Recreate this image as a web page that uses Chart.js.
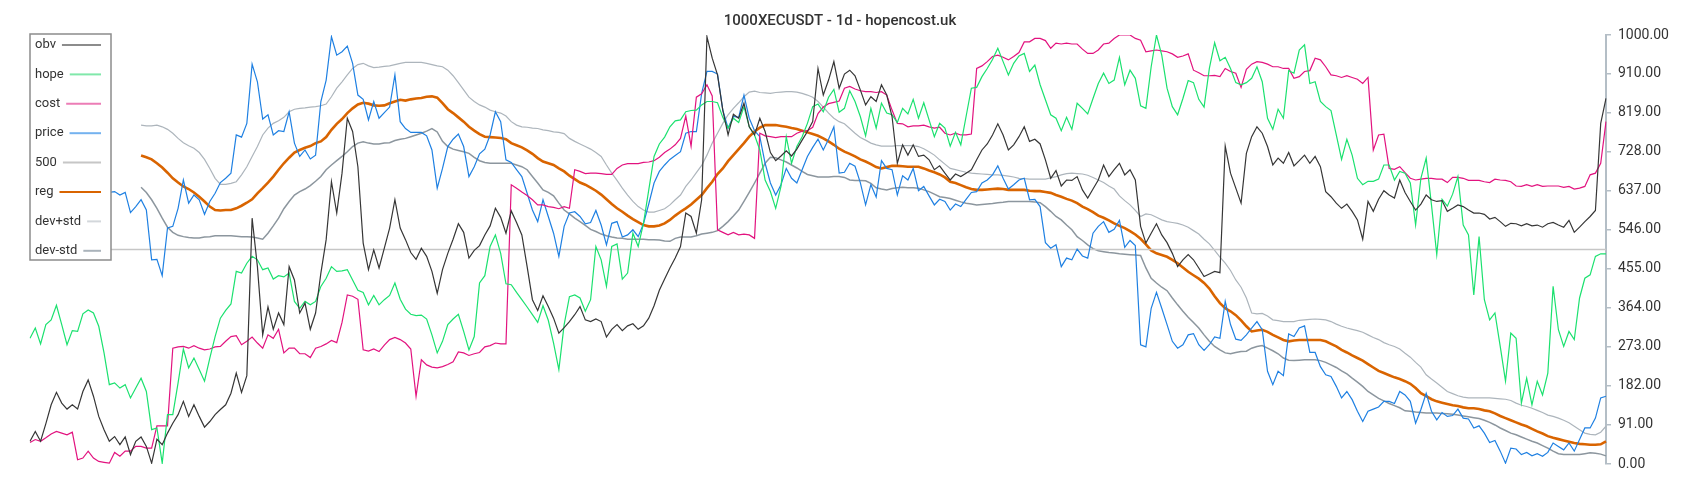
<!DOCTYPE html>
<html>
<head>
<meta charset="utf-8">
<title>1000XECUSDT - 1d - hopencost.uk</title>
<script src="https://cdn.jsdelivr.net/npm/chart.js@4.4.1/dist/chart.umd.min.js"></script>
<style>
    html, body { margin: 0; padding: 0; background: #fff; }
    #wrap { width: 1700px; height: 500px; position: relative; }
</style>
</head>
<body>
<div id="wrap"><canvas id="container"></canvas></div>
<script>
const titleText = '1000XECUSDT - 1d - hopencost.uk';

const obv = [53,76,53,94,138,167,142,128,138,128,
169,196,158,111,80,53,64,45,63,22,
53,63,41,2,58,45,72,95,115,146,
111,138,111,86,99,115,127,138,165,212,
167,206,573,460,301,366,314,352,325,460,
429,352,375,314,352,445,523,658,585,678,
806,775,693,515,453,499,457,503,550,616,
550,523,493,477,503,484,449,398,453,491,
524,560,540,480,498,509,534,555,596,575,
538,590,563,534,460,383,358,392,367,340,
305,318,332,348,367,336,332,338,332,296,
314,325,311,322,327,314,322,340,369,405,
431,457,480,507,585,577,538,616,996,946,
907,825,767,815,806,841,786,767,806,775,
726,707,718,730,718,734,755,775,798,922,
860,895,938,876,909,918,905,872,837,856,
845,884,860,810,701,744,720,744,717,720,
709,686,695,678,662,676,670,678,686,709,
732,746,767,793,767,732,744,763,786,752,
757,746,709,666,684,648,662,661,670,639,
620,641,662,697,670,686,701,674,686,662,
554,515,538,560,534,516,491,460,476,488,
476,457,437,443,449,446,741,678,643,608,
724,763,786,771,740,697,713,701,726,695,
707,720,701,717,693,635,623,608,596,606,
589,569,524,612,589,617,637,627,620,662,
633,612,592,606,627,616,612,614,589,596,
604,600,592,585,585,582,571,575,565,554,
561,560,555,560,555,557,552,560,563,557,
552,568,540,552,565,577,591,794,852];

const hope = [293,317,280,325,336,370,325,278,311,309,
350,359,352,321,259,185,189,177,185,154,
177,200,169,80,84,2,115,115,189,268,
224,247,220,193,247,297,340,358,373,449,
445,468,484,476,453,457,431,439,436,445,
379,363,379,371,379,414,433,460,449,450,
453,429,405,400,371,393,371,383,393,422,
384,361,349,346,347,338,301,259,286,325,
338,349,309,266,297,422,439,507,534,491,
420,418,400,383,366,348,330,369,335,282,
220,325,390,394,387,356,383,507,476,414,
507,513,431,445,538,507,561,639,717,746,
762,786,800,802,821,824,825,837,845,845,
842,808,783,806,796,833,786,767,732,662,
635,596,647,763,701,740,763,794,833,839,
821,855,873,820,829,870,845,810,765,829,
783,841,818,814,796,829,816,850,806,842,
802,763,794,783,741,773,744,810,876,878,
903,922,943,969,938,907,934,951,957,915,
930,884,849,814,806,777,808,780,841,829,
816,852,887,911,887,895,948,884,918,899,
835,829,926,1000,953,876,833,814,852,894,
889,850,832,922,982,940,948,922,889,884,
889,899,926,891,806,780,827,806,917,911,
965,977,887,891,845,833,824,767,710,757,
720,666,651,659,659,664,697,697,662,682,
678,655,557,666,713,604,488,617,601,629,
670,557,534,394,530,383,336,352,274,193,
305,293,142,200,138,193,161,212,414,313,
274,309,290,387,433,441,484,490,490];

const cost = [50,57,53,61,70,76,72,68,74,10,
14,30,14,6,4,2,27,18,30,30,
41,41,37,37,89,89,89,270,273,274,
270,276,270,266,268,273,274,286,297,299,
278,286,296,282,270,301,293,314,259,270,
270,257,257,248,270,274,280,288,283,330,
394,391,384,266,263,268,262,277,290,295,
290,282,268,158,243,231,226,224,227,232,
238,261,259,253,257,260,273,276,282,280,
280,651,643,634,626,616,604,604,600,598,
595,600,596,686,682,677,678,678,677,675,
675,689,697,700,700,700,703,704,707,715,
726,734,744,759,811,741,855,863,884,858,
546,540,534,540,534,536,534,526,771,765,
763,761,763,763,763,771,776,777,785,817,
832,840,843,846,876,880,874,870,868,868,
866,868,860,825,794,793,786,788,788,790,
786,783,785,771,767,771,767,767,769,922,
928,938,950,953,948,942,950,959,984,984,
992,992,987,969,981,979,981,979,979,967,
957,957,965,979,981,992,1000,1000,1000,992,
988,961,963,965,963,961,956,948,951,956,
918,912,905,905,906,903,922,915,911,878,
920,932,938,936,932,926,926,922,922,899,
903,915,917,946,942,926,907,905,901,905,
901,897,887,901,732,767,769,689,687,693,
679,666,662,664,666,666,664,664,656,668,
668,666,661,661,661,658,656,664,662,661,
658,648,647,651,647,651,647,648,648,648,
645,647,641,643,647,674,678,701,798];

const price = [640,655,648,662,670,655,640,630,645,660,
650,638,625,640,632,633,635,627,633,586,
600,616,592,476,477,439,550,554,596,662,
608,627,616,582,612,631,656,666,678,767,
762,794,932,891,804,814,767,777,775,821,
748,717,732,711,720,845,895,996,953,961,
974,934,860,850,802,845,806,819,832,907,
798,782,773,773,773,765,732,643,689,740,
757,769,740,670,693,723,734,767,821,798,
709,703,686,670,631,592,565,616,577,538,
484,554,585,588,577,560,563,591,557,511,
561,565,529,534,546,530,560,606,655,682,
697,710,719,728,771,775,775,864,915,915,
909,825,783,810,808,860,806,777,763,701,
655,627,651,689,666,655,686,717,738,757,
732,757,786,678,680,701,694,656,604,651,
622,707,689,686,627,672,662,689,637,647,
625,604,617,612,592,606,600,617,633,635,
655,662,674,695,666,641,651,662,666,616,
617,600,516,503,511,460,480,476,501,485,
480,538,554,565,540,547,568,505,521,509,
278,273,363,400,363,325,286,270,278,301,
304,278,265,278,296,293,379,325,291,288,
301,317,332,313,216,185,216,206,303,297,
317,322,260,260,227,208,204,181,154,169,
150,123,99,123,128,133,146,146,141,169,
161,146,95,127,165,123,103,120,111,113,
128,107,105,84,89,72,50,55,30,2,
37,35,22,27,19,24,18,27,49,41,
33,49,30,57,84,84,107,154,158];

const level = 500;

const reg = [null,null,null,null,null,null,null,null,null,null,
null,null,null,null,null,null,null,null,null,null,
null,719,715,710,701,691,679,666,656,647,
641,633,623,612,600,592,591,592,592,596,
602,609,617,631,643,656,670,686,701,714,
726,732,737,741,748,752,762,779,793,804,
818,829,838,842,840,836,835,836,841,845,
849,847,850,852,853,856,857,854,841,827,
818,808,798,786,777,769,763,762,761,760,
757,748,743,738,731,723,713,705,701,697,
689,682,672,664,656,651,644,637,628,617,
606,596,588,579,571,564,557,554,554,556,
561,569,579,588,596,605,616,627,643,658,
676,689,706,720,734,748,763,775,784,790,
790,790,788,786,783,781,777,773,769,765,
759,752,744,735,728,723,717,710,705,699,
692,689,692,695,695,694,693,693,693,689,
684,680,675,668,658,655,650,645,641,639,
639,640,641,642,641,639,639,639,639,637,
636,636,634,632,627,623,618,614,608,600,
594,587,579,574,568,561,555,550,543,535,
525,512,498,491,487,483,476,468,458,448,
440,432,422,409,391,375,363,356,347,335,
321,309,311,313,308,301,295,289,286,288,
289,289,289,289,289,286,280,274,266,260,
253,247,241,233,225,217,212,207,202,198,
193,187,177,165,158,151,146,143,140,137,
135,132,130,130,128,125,123,118,112,107,
102,97,92,88,82,76,71,65,61,58,
55,52,49,47,46,45,45,46,53];

const devUp = [null,null,null,null,null,null,null,null,null,null,
null,null,null,null,null,null,null,null,null,null,
null,790,788,788,790,786,780,771,759,749,
742,736,726,710,689,666,652,652,654,658,
674,693,717,740,767,783,794,800,808,821,
827,829,830,832,833,835,839,856,876,891,
907,922,931,934,928,924,925,927,928,931,
934,936,936,936,936,934,931,928,926,918,
905,889,872,855,845,837,832,825,821,818,
811,798,790,786,785,783,782,779,777,774,
773,770,759,752,746,740,734,726,717,697,
678,661,643,627,612,600,592,587,587,591,
595,604,616,627,647,662,679,696,720,748,
771,794,814,829,842,856,867,869,866,865,
864,866,867,868,868,867,864,860,855,845,
832,818,806,798,793,782,771,761,755,748,
744,741,741,741,742,742,742,742,740,735,
728,720,709,699,689,686,683,680,678,677,
676,675,674,674,673,671,669,666,665,664,
664,664,664,667,670,674,677,678,677,676,
673,668,662,656,648,641,625,614,604,591,
577,583,581,575,569,565,563,561,557,552,
544,536,524,513,498,482,468,451,429,412,
387,352,350,351,345,336,334,332,332,332,
335,336,337,338,337,336,332,326,321,317,
314,311,307,301,295,290,283,278,274,268,
258,249,237,226,208,198,189,179,169,164,
159,156,154,154,154,154,154,153,152,151,
148,142,137,134,130,125,120,114,111,107,
102,96,88,80,72,69,68,74,88];

const devDown = [null,null,null,null,null,null,null,null,null,null,
null,null,null,null,null,null,null,null,null,null,
null,645,633,616,596,573,552,540,533,530,
528,527,527,529,530,532,532,532,532,531,
530,530,529,527,524,538,555,573,595,612,
627,635,641,649,659,670,686,697,707,717,
728,740,748,751,748,746,746,748,749,754,
757,759,763,767,771,776,782,774,752,740,
734,731,728,724,715,707,703,701,701,701,
701,701,697,693,686,670,655,639,633,625,
608,592,583,573,565,556,547,542,536,532,
529,527,526,524,524,524,524,523,523,522,
520,519,526,529,529,529,532,536,538,540,
544,554,565,578,592,612,633,655,678,701,
715,714,709,704,697,690,682,675,672,669,
669,669,670,670,668,662,661,661,660,654,
644,641,639,642,644,645,644,644,643,639,
635,629,623,621,619,615,611,608,606,604,
605,606,607,609,610,612,612,612,612,612,
611,609,600,589,577,569,557,546,530,521,
511,502,497,495,493,492,490,489,488,487,
486,457,433,422,412,404,387,371,356,342,
330,317,301,286,274,266,259,257,260,262,
263,270,274,276,270,264,257,247,242,241,
242,243,243,243,241,237,231,225,217,210,
200,191,181,169,161,153,147,141,136,131,
124,123,121,120,119,119,119,118,117,116,
114,112,110,108,106,102,97,91,84,78,
72,68,63,58,53,49,43,37,30,24,
22,22,22,22,24,26,25,23,19];

const yTicks = [0, 91, 182, 273, 364, 455, 546, 637, 728, 819, 910, 1000];

// days on the x axis (not shown)
const days = obv.map((v, i) => i + 1);

function lineSet(label, data, color, legendColor, width) {
    return {
        label: label,
        data: data,
        borderColor: color,
        legendColor: legendColor,
        borderWidth: width,
        pointRadius: 0,
        pointHoverRadius: 0,
        tension: 0,
        fill: false
    };
}

// legend box at top-left: text first, then the line sample
const legendBox = {
    id: 'legendBox',
    afterDatasetsDraw(chart) {
        const c = chart.ctx;
        c.save();
        c.fillStyle = '#ffffff';
        c.fillRect(30, 34, 81, 226);
        c.strokeStyle = '#8c8c8c';
        c.lineWidth = 1.5;
        c.strokeRect(30, 34, 81, 226);
        c.font = '13px Roboto';
        c.textBaseline = 'middle';
        c.textAlign = 'left';
        chart.data.datasets.forEach(function(ds, k) {
            const y = 45 + k * 29.4;
            c.fillStyle = '#333333';
            c.fillText(ds.label, 35, y);
            const w = c.measureText(ds.label).width;
            c.strokeStyle = ds.legendColor;
            c.lineWidth = 2;
            c.beginPath();
            c.moveTo(35 + w + 6, y);
            c.lineTo(101, y);
            c.stroke();
        });
        c.restore();
    }
};

const titleDraw = {
    id: 'titleDraw',
    afterDraw(chart) {
        const c = chart.ctx;
        c.save();
        c.font = '500 15px Roboto';
        c.fillStyle = '#333333';
        c.textAlign = 'center';
        c.textBaseline = 'middle';
        c.fillText(titleText, 840, 21);
        c.restore();
    }
};

Chart.defaults.font.family = 'Roboto';

const ctx = document.getElementById('container').getContext('2d');

const chart = new Chart(ctx, {
    type: 'line',
    data: {
        labels: days,
        datasets: [
            lineSet('obv', obv, '#363636', '#8c8c8c', 1.2),
            lineSet('hope', hope, '#1be16f', '#80e8aa', 1.2),
            lineSet('cost', cost, '#e2137f', '#ec7db6', 1.2),
            lineSet('price', price, '#1f80e2', '#74b2ef', 1.2),
            lineSet('500', days.map(() => level), '#c6c6c6', '#c6c6c6', 1.6),
            lineSet('reg', reg, '#d96400', '#d96400', 2.6),
            lineSet('dev+std', devUp, '#adb5bc', '#d3d7db', 1.2),
            lineSet('dev-std', devDown, '#8c969e', '#aab3bb', 1.5)
        ]
    },
    options: {
        responsive: true,
        maintainAspectRatio: false,
        animation: false,
        events: [],
        layout: {
            padding: { left: 30, right: 0, top: 35, bottom: 36 }
        },
        plugins: {
            legend: { display: false },
            title: { display: false },
            tooltip: { enabled: false }
        },
        scales: {
            x: {
                type: 'category',
                display: false
            },
            y: {
                position: 'right',
                min: 0,
                max: 1000,
                afterBuildTicks: function(scale) {
                    scale.ticks = yTicks.map(v => ({ value: v }));
                },
                afterFit: function(scale) {
                    scale.width = 94;
                },
                grid: {
                    drawOnChartArea: false,
                    drawTicks: true,
                    tickLength: 5,
                    color: '#b4bec6',
                    lineWidth: 1.5
                },
                border: {
                    display: true,
                    color: '#b4bec6',
                    width: 2
                },
                ticks: {
                    autoSkip: false,
                    padding: 7,
                    color: '#333333',
                    font: { size: 14 },
                    callback: function(value) {
                        return Number(value).toFixed(2);
                    }
                }
            }
        }
    },
    plugins: [legendBox, titleDraw]
});
</script>
</body>
</html>
